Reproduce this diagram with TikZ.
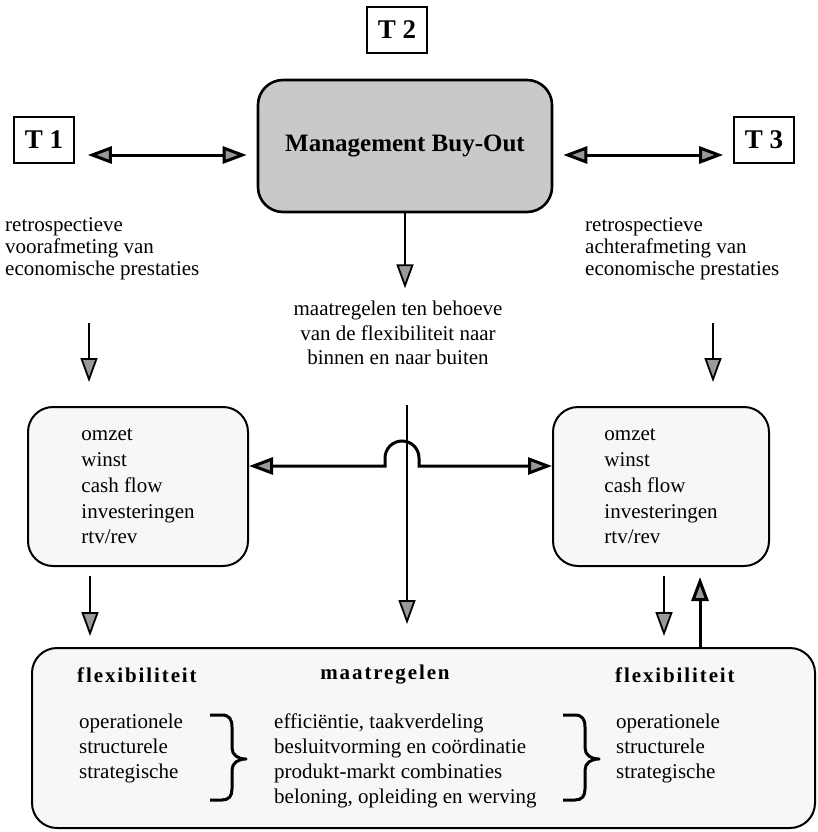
\documentclass[tikz,border=0pt]{standalone}
\usepackage{fontspec}
\setmainfont{Liberation Serif}
\usetikzlibrary{arrows.meta}

\begin{document}
\begin{tikzpicture}[x=1pt,y=-1pt,font=\fontsize{21}{25}\selectfont,
    tip/.style={-{Triangle[length=24pt,width=17pt,fill=gray!80]}},
    arr/.style={tip,line width=1.8pt},
    dbl/.style={{Triangle[length=24pt,width=17pt,fill=gray!80]}-{Triangle[length=24pt,width=17pt,fill=gray!80]},line width=3pt},
    time node/.style={draw,line width=1.6pt,minimum width=60pt,minimum height=46pt,inner sep=0pt,font=\bfseries\fontsize{27}{30}\selectfont},
    main node/.style={draw,line width=2pt,rounded corners=25pt,fill=gray!6,align=left,inner sep=0pt},
    txt/.style={inner sep=0pt,align=left,anchor=west},
    head/.style={inner sep=0pt,font=\bfseries\fontsize{21}{25}\selectfont\addfontfeature{LetterSpace=9}},
    brace/.style={line width=3pt,line join=round}]
    \useasboundingbox (0,0) rectangle (818,832);
    % tijdstippen en buy-out
    \node[time node] (t2) at (397,30) {T 2};
    \node[time node] (t1) at (44,140) {T 1};
    \node[time node] (t3) at (764,140) {T 3};
    \node[main node,fill=gray!42,align=center,minimum width=294pt,minimum height=132pt,line width=2.6pt,
          font=\bfseries\fontsize{25}{30}\selectfont] (mbo) at (405,146) {Management Buy-Out};
    \coordinate (ay) at (0,155);
    \draw[dbl,shorten <=13pt,shorten >=10pt] (t1.east |- ay) -- (mbo.west |- ay);
    \draw[dbl,shorten <=10pt,shorten >=10pt] (mbo.east |- ay) -- (t3.west |- ay);
    \draw[arr] (mbo.south) -- ++(0,75);
    % teksten
    \node[txt,font=\fontsize{21}{22}\selectfont] (pre) at (5,249)
        {retrospectieve\\voorafmeting van\\economische prestaties};
    \node[txt,font=\fontsize{21}{22}\selectfont] (post) at (585,249)
        {retrospectieve\\achterafmeting van\\economische prestaties};
    \node[align=center,inner sep=0pt,font=\fontsize{21}{24.5}\selectfont] (maat) at (398,333)
        {maatregelen ten behoeve\\van de flexibiliteit naar\\binnen en naar buiten};
    % prestaties voor en na
    \node[main node,minimum width=220pt,minimum height=159pt,font=\fontsize{21}{25.7}\selectfont] (lbox) at (138,486.5)
        {omzet\\winst\\cash flow\\investeringen\\rtv/rev};
    \node[main node,minimum width=216pt,minimum height=159pt,font=\fontsize{21}{25.7}\selectfont] (rbox) at (661,486.5)
        {omzet\\winst\\cash flow\\investeringen\\rtv/rev};
    \node[main node,minimum width=783pt,minimum height=180pt] (flex) at (423.5,738) {};
    \coordinate (la) at (89,323);
    \coordinate (ra) at (713,323);
    \draw[arr,shorten >=24pt] (la) -- (la |- lbox.north);
    \draw[arr,shorten >=24pt] (ra) -- (ra |- rbox.north);
    % maatregelen naar beide kanten
    \draw[dbl] ([yshift=20.5pt]lbox.east) -- (385,466) -- (385,458)
        arc[start angle=180,end angle=360,radius=17] -- (419,466) -- ([yshift=20.5pt]rbox.west);
    \coordinate (vtop) at (407,405);
    \draw[arr] (vtop) -- (vtop |- flex.north) [shorten >=23pt];
    \coordinate (lx) at (90,0);
    \coordinate (dx) at (664,0);
    \coordinate (ux) at (700,0);
    \draw[arr,shorten <=9pt,shorten >=11pt] (lbox.south -| lx) -- (flex.north -| lx);
    \draw[arr,shorten <=9pt,shorten >=11pt] (rbox.south -| dx) -- (flex.north -| dx);
    \draw[arr,line width=3pt,shorten >=10pt] (flex.north -| ux) -- (rbox.south -| ux);
    % flexibiliteit en maatregelen
    \node[head,anchor=west] (hl) at (77,675) {flexibiliteit};
    \node[head] (hm) at (385,675) {maatregelen};
    \node[head,anchor=west] (hr) at (615,675) {flexibiliteit};
    \node[txt] (lo) at (79,748) {operationele\\structurele\\strategische};
    \node[txt] (mm) at (274,760.5) {efficiëntie, taakverdeling\\besluitvorming en coördinatie\\produkt-markt combinaties\\beloning, opleiding en werving};
    \node[txt] (ro) at (616,748) {operationele\\structurele\\strategische};
    \foreach \bx in {210,563}
        \draw[brace] (\bx,715) -- (\bx+12,715) .. controls (\bx+19,715) and (\bx+22,719) .. (\bx+22,727)
            -- (\bx+22,748) .. controls (\bx+22,755) and (\bx+28,759) .. (\bx+36,759)
            .. controls (\bx+28,759) and (\bx+22,763) .. (\bx+22,770)
            -- (\bx+22,789) .. controls (\bx+22,796) and (\bx+19,800) .. (\bx+12,800) -- (\bx,800);
\end{tikzpicture}
\end{document}
